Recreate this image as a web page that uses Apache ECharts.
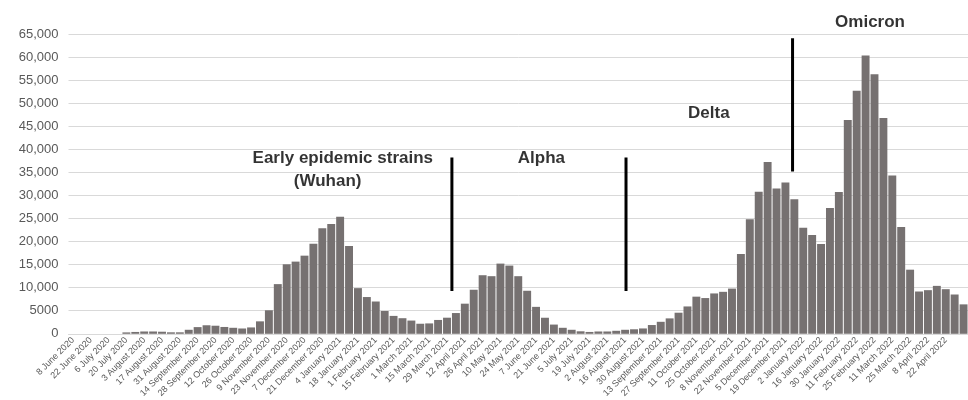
<!DOCTYPE html>
<html>
<head>
<meta charset="utf-8">
<script src="https://cdn.jsdelivr.net/npm/echarts@6/dist/echarts.min.js"></script>
<style>
  html, body { margin: 0; padding: 0; background: #ffffff; }
  #chart { width: 968px; height: 400px; }
</style>
</head>
<body>
<div id="chart"></div>
<script>
// Weekly categories (every second one is shown as a tick label)
const categories = [
  '8 June 2020','15 June 2020','22 June 2020','29 June 2020','6 July 2020','13 July 2020',
  '20 July 2020','27 July 2020','3 August 2020','10 August 2020','17 August 2020','24 August 2020',
  '31 August 2020','7 September 2020','14 September 2020','21 September 2020','28 September 2020',
  '5 October 2020','12 October 2020','19 October 2020','26 October 2020','2 November 2020',
  '9 November 2020','16 November 2020','23 November 2020','30 November 2020','7 December 2020',
  '14 December 2020','21 December 2020','28 December 2020','4 January 2021','11 January 2021',
  '18 January 2021','25 January 2021','1 February 2021','8 February 2021','15 February 2021',
  '22 February 2021','1 March 2021','8 March 2021','15 March 2021','22 March 2021','29 March 2021',
  '5 April 2021','12 April 2021','19 April 2021','26 April 2021','3 May 2021','10 May 2021',
  '17 May 2021','24 May 2021','31 May 2021','7 June 2021','14 June 2021','21 June 2021',
  '28 June 2021','5 July 2021','12 July 2021','19 July 2021','26 July 2021','2 August 2021',
  '9 August 2021','16 August 2021','23 August 2021','30 August 2021','6 September 2021',
  '13 September 2021','20 September 2021','27 September 2021','4 October 2021','11 October 2021',
  '18 October 2021','25 October 2021','1 November 2021','8 November 2021','15 November 2021',
  '22 November 2021','29 November 2021','5 December 2021','12 December 2021','19 December 2021',
  '26 December 2021','2 January 2022','9 January 2022','16 January 2022','23 January 2022',
  '30 January 2022','4 February 2022','11 February 2022','18 February 2022','25 February 2022',
  '4 March 2022','11 March 2022','18 March 2022','25 March 2022','1 April 2022','8 April 2022',
  '15 April 2022','22 April 2022','29 April 2022','6 May 2022'
];

const cases = [
  0, 0, 0, 0, 0, 0,
  300, 400, 500, 500, 450, 320, 320, 870, 1450, 1850, 1750, 1480, 1300, 1150,
  1380, 2700, 5100, 10770, 15070, 15650, 16940, 19530, 22900, 23800,
  25400, 19020, 9900, 7970, 7000, 4940, 3880, 3380, 2870, 2180,
  2250, 3000, 3490, 4500, 6530, 9550, 12700, 12490, 15220, 14790,
  12490, 9330, 5840, 3480, 2000, 1300, 870, 540, 400, 500,
  500, 650, 870, 980, 1160, 1900, 2600, 3340, 4570, 5930,
  8050, 7750, 8750, 9100, 9800, 17300, 24860, 30800, 37250, 31520,
  32810, 29150, 22990, 21420, 19480, 27290, 30730, 46350, 52720, 60320,
  56300, 46780, 34310, 23140, 13900, 9170, 9460, 10390, 9670, 8520,
  6380
];

const yMax = 65000;
const yStep = 5000;

// Variant period dividers (x in category-index units, y in cases)
const dividers = [
  { x: 42.55, from: 9300, to: 38200 },
  { x: 62.1, from: 9300, to: 38200 },
  { x: 80.8, from: 35200, to: 64100 }
];

// Period annotations (x in category-index units, y in cases)
const annotations = [
  { text: 'Early epidemic strains', x: 30.3, y: 38100 },
  { text: '(Wuhan)', x: 28.6, y: 33150 },
  { text: 'Alpha', x: 52.6, y: 38100 },
  { text: 'Delta', x: 71.4, y: 47850 },
  { text: 'Omicron', x: 89.5, y: 67500 }
];

const chart = echarts.init(document.getElementById('chart'), null, { renderer: 'canvas' });

const fmtY = v => (v >= 10000 ? v.toLocaleString('en-US') : String(v));

const series = [
  {
    type: 'bar',
    data: cases,
    xAxisIndex: 0,
    yAxisIndex: 0,
    barCategoryGap: '11%',
    itemStyle: { color: '#767171' },
    silent: true
  }
];

dividers.forEach(d => {
  series.push({
    type: 'line',
    xAxisIndex: 1,
    yAxisIndex: 0,
    data: [[d.x, d.from], [d.x, d.to]],
    showSymbol: false,
    symbol: 'none',
    lineStyle: { color: '#000000', width: 3 },
    silent: true,
    z: 5
  });
});

series.push({
  type: 'scatter',
  xAxisIndex: 1,
  yAxisIndex: 0,
  clip: false,
  symbolSize: 0,
  silent: true,
  data: annotations.map(a => ({ value: [a.x, a.y], name: a.text })),
  label: {
    show: true,
    position: 'inside',
    formatter: p => p.name,
    fontFamily: 'Liberation Sans, Arial, sans-serif',
    fontWeight: 'bold',
    fontSize: 17,
    color: '#000000'
  },
  z: 6
});

chart.setOption({
  animation: false,
  backgroundColor: '#ffffff',
  grid: { left: 68.5, width: 900.5, top: 34, bottom: 65, containLabel: false },
  xAxis: [
    {
      type: 'category',
      data: categories,
      boundaryGap: true,
      axisLine: { show: true, lineStyle: { color: '#d9d9d9', width: 1 } },
      axisTick: { show: false },
      axisLabel: {
        interval: (index) => index % 2 === 0 && index < 100,
        rotate: 45,
        fontSize: 9,
        fontFamily: 'Liberation Sans, Arial, sans-serif',
        color: '#595959',
        margin: 5
      },
      splitLine: { show: false }
    },
    {
      type: 'value',
      min: -0.5,
      max: categories.length - 0.5,
      show: false
    }
  ],
  yAxis: {
    type: 'value',
    min: 0,
    max: yMax,
    interval: yStep,
    axisLine: { show: false },
    axisTick: { show: false },
    axisLabel: {
      formatter: fmtY,
      fontSize: 13,
      fontFamily: 'Liberation Sans, Arial, sans-serif',
      color: '#595959',
      margin: 10
    },
    splitLine: { show: true, lineStyle: { color: '#d9d9d9', width: 1 } }
  },
  series: series
});
</script>
</body>
</html>
